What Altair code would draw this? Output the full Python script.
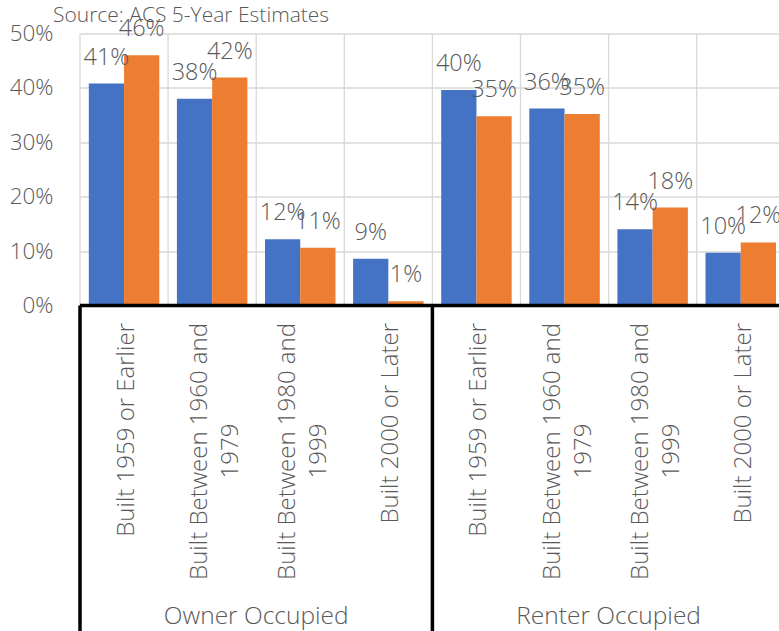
import altair as alt
import pandas as pd

# ---------------- data ----------------
categories = ["Built 1959 or Earlier", "Built Between 1960 and 1979",
              "Built Between 1980 and 1999", "Built 2000 or Later"]
cat_line1 = ["Built 1959 or Earlier", "Built Between 1960 and",
             "Built Between 1980 and", "Built 2000 or Later"]
cat_line2 = ["", "1979", "1999", ""]
groups = ["Owner Occupied", "Renter Occupied"]
series_names = ["Series 1", "Series 2"]
# percent values, order: Owner x 4 categories, then Renter x 4 categories
series1 = [40.8, 38.0, 12.2, 8.6, 39.6, 36.2, 14.0, 9.7]
series2 = [46.0, 41.9, 10.6, 0.8, 34.8, 35.2, 18.0, 11.6]
y_ticks = [0, 0.1, 0.2, 0.3, 0.4, 0.5]
source_note = "Source: ACS 5-Year Estimates"

# ---------------- style ----------------
BLUE, ORANGE = "#4472C4", "#ED7D31"
GREY, GRID = "#595959", "#D9D9D9"
FONT, FW = "Open Sans", 300
W, H = 699, 272
PAD = {"left": 80, "top": 33.5, "right": 0, "bottom": 631 - 33.5 - H}

n_cat = len(categories)
rows = []
for g, grp in enumerate(groups):
    for c, cat in enumerate(categories):
        pos = g * n_cat + c
        for s, vals in enumerate([series1, series2]):
            rows.append(dict(group=grp, category=cat, pos=pos,
                             series=series_names[s], s=s, value=vals[pos] / 100))
bars_df = pd.DataFrame(rows)

cat_df = pd.DataFrame([
    dict(pos=g * n_cat + c, line1=cat_line1[c], line2=cat_line2[c],
         nlines=2 if cat_line2[c] else 1)
    for g in range(len(groups)) for c in range(n_cat)
])
grp_df = pd.DataFrame(dict(group=groups, gi=list(range(len(groups)))))
bound_df = pd.DataFrame(dict(b=list(range(len(groups) * n_cat))))
box_df = pd.DataFrame(dict(b=[g * n_cat for g in range(len(groups))]))
note_df = pd.DataFrame(dict(note=[source_note]))

x_scale = alt.Scale(domain=[0, W / 88.1], nice=False, zero=False)
y_scale = alt.Scale(domain=[0, 0.5], nice=False)
y_axis = alt.Axis(values=y_ticks, format=".0%", grid=True, gridColor=GRID,
                  gridWidth=1.3, domain=False, ticks=False, title=None,
                  labelFont=FONT, labelFontSize=22.5, labelFontWeight=FW,
                  labelColor=GREY, labelPadding=27)

vgrid = alt.Chart(bound_df).mark_rule(color=GRID, strokeWidth=1.3).encode(
    x=alt.X("b:Q", scale=x_scale, axis=None),
    y=alt.value(0), y2=alt.value(H))

bars = alt.Chart(bars_df).transform_calculate(
    x1="datum.pos + 0.1 + 0.4 * datum.s",
    x2="datum.pos + 0.5 + 0.4 * datum.s",
).mark_bar().encode(
    x=alt.X("x1:Q", scale=x_scale, axis=None),
    x2="x2:Q",
    y=alt.Y("value:Q", scale=y_scale, axis=y_axis),
    y2=alt.datum(0),
    color=alt.Color("series:N", scale=alt.Scale(domain=series_names, range=[BLUE, ORANGE]),
                    legend=None),
)

labels = alt.Chart(bars_df).transform_calculate(
    xm="datum.pos + 0.3 + 0.4 * datum.s",
).mark_text(font=FONT, fontSize=23.5, fontWeight=FW, color=GREY,
            baseline="alphabetic", align="center", dy=-19).encode(
    x=alt.X("xm:Q", scale=x_scale, axis=None),
    y=alt.Y("value:Q", scale=y_scale, axis=y_axis),
    text=alt.Text("value:Q", format=".0%"),
)

h_black = alt.Chart(note_df).mark_rule(color="black", strokeWidth=3.5).encode(
    x=alt.value(0), x2=alt.value(W), y=alt.value(H))
v_black = alt.Chart(box_df).mark_rule(color="black", strokeWidth=3.5).encode(
    x=alt.X("b:Q", scale=x_scale, axis=None),
    y=alt.value(H), y2=alt.value(631 - PAD["top"]))

txt = dict(font=FONT, fontSize=24, fontWeight=FW, color=GREY)
cat_single = alt.Chart(cat_df).transform_filter("datum.nlines == 1").transform_calculate(
    xc="datum.pos + 0.5").mark_text(angle=270, align="right", baseline="middle",
                                     dy=3, **txt).encode(
    x=alt.X("xc:Q", scale=x_scale, axis=None), y=alt.value(289.5), text="line1:N")
cat_first = alt.Chart(cat_df).transform_filter("datum.nlines == 2").transform_calculate(
    xc="datum.pos + 0.5").mark_text(angle=270, align="right", baseline="middle",
                                     dy=-12, **txt).encode(
    x=alt.X("xc:Q", scale=x_scale, axis=None), y=alt.value(289.5), text="line1:N")
cat_second = alt.Chart(cat_df).transform_filter("datum.nlines == 2").transform_calculate(
    xc="datum.pos + 0.5").mark_text(angle=270, align="center", baseline="middle",
                                     dy=19, **txt).encode(
    x=alt.X("xc:Q", scale=x_scale, axis=None), y=alt.value(417.5), text="line2:N")

grp_text = alt.Chart(grp_df).transform_calculate(
    xc=f"datum.gi * {n_cat} + {n_cat / 2}").mark_text(
    align="center", baseline="alphabetic", font=FONT, fontSize=24.5, fontWeight=FW,
    color=GREY).encode(
    x=alt.X("xc:Q", scale=x_scale, axis=None), y=alt.value(590.5), text="group:N")

note = alt.Chart(note_df).mark_text(align="left", baseline="alphabetic",
                                    font=FONT, fontSize=21, fontWeight=FW, color=GREY).encode(
    x=alt.value(-27), y=alt.value(-11.5), text="note:N")

chart = alt.layer(
    vgrid, bars, labels, h_black, v_black, cat_single, cat_first, cat_second, grp_text, note
).properties(
    width=W, height=H,
    autosize=alt.AutoSizeParams(type="none"),
    padding=PAD,
).configure_view(stroke=None)

chart.save("out.html", embed_options={"renderer": "svg", "actions": False})
